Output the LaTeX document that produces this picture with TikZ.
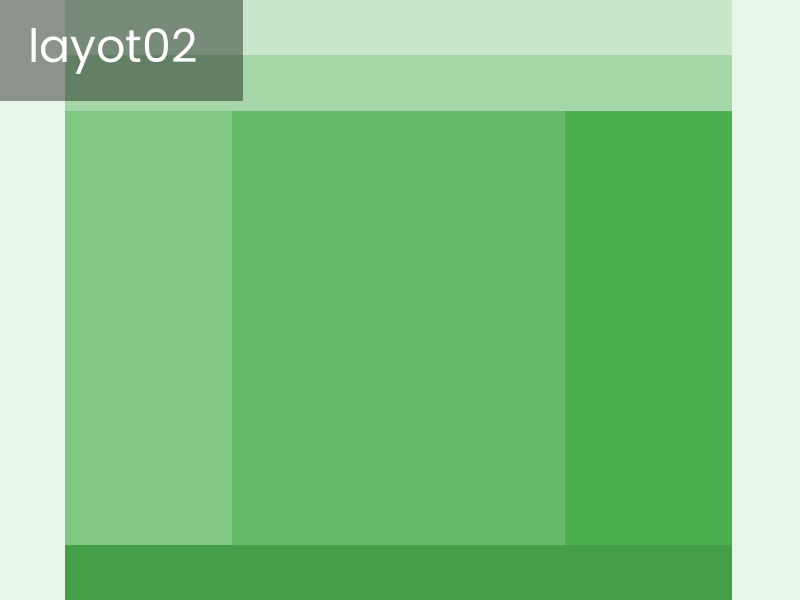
\documentclass[tikz,border=0pt]{standalone}
\usepackage{fontspec}
\setmainfont{Poppins}
\definecolor{greenbg}{HTML}{E8F5E9}
\definecolor{greenA}{HTML}{C8E6C9}
\definecolor{greenB}{HTML}{A5D6A7}
\definecolor{greenC}{HTML}{81C784}
\definecolor{greenD}{HTML}{66BB6A}
\definecolor{greenE}{HTML}{4CAF50}
\definecolor{greenF}{HTML}{43A047}

\begin{document}
\begin{tikzpicture}[x=1pt, y=-1pt]
    % Background
    \fill[greenbg] (0,0) rectangle (800,600);
    \useasboundingbox (0,0) rectangle (800,600);

    % Header bands
    \fill[greenA] (65,0) rectangle (732,55);
    \fill[greenB] (65,55) rectangle (732,111);

    % Columns
    \fill[greenC] (65,111) rectangle (232,545);
    \fill[greenD] (232,111) rectangle (565,545);
    \fill[greenE] (565,111) rectangle (732,545);

    % Footer
    \fill[greenF] (65,545) rectangle (732,600);

    % Label
    \fill[black, opacity=0.4] (0,0) rectangle (243,101);
    \node[anchor=base west, text=white, inner sep=0pt,
          font=\fontsize{46}{46}\selectfont] (title) at (28,62) {layot02};
\end{tikzpicture}
\end{document}
